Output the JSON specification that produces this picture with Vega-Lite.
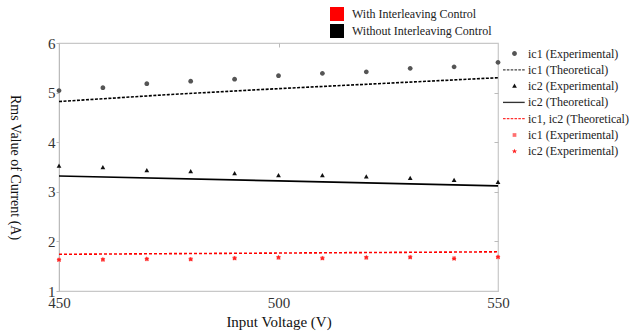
{
  "$schema": "https://vega.github.io/schema/vega-lite/v6.json",
  "width": 439,
  "height": 248,
  "autosize": {"type": "none"},
  "padding": {"left": 59, "top": 43, "right": 136, "bottom": 40},
  "background": "white",
  "config": {
    "view": {"stroke": "#c8c8c8", "strokeWidth": 1.2},
    "font": "Liberation Serif",
    "text": {"font": "Liberation Serif"},
    "axis": {"labelFont": "Liberation Serif", "titleFont": "Liberation Serif", "labelColor": "#333", "titleColor": "#111", "titleFontWeight": "normal", "domainColor": "#bbb", "tickColor": "#bbb", "grid": false, "labelFlush": false},
    "legend": {"labelFont": "Liberation Serif", "labelFontSize": 12, "labelColor": "#222"}
  },
  "resolve": {"axis": {"x": "independent", "y": "independent"}},
  "datasets": {
    "exp": [
      {"x": 450, "y": 5.04, "s": "A"}, {"x": 460, "y": 5.10, "s": "A"}, {"x": 470, "y": 5.18, "s": "A"}, {"x": 480, "y": 5.23, "s": "A"}, {"x": 490, "y": 5.27, "s": "A"}, {"x": 500, "y": 5.34, "s": "A"}, {"x": 510, "y": 5.39, "s": "A"}, {"x": 520, "y": 5.42, "s": "A"}, {"x": 530, "y": 5.49, "s": "A"}, {"x": 540, "y": 5.52, "s": "A"}, {"x": 550, "y": 5.61, "s": "A"},
      {"x": 450, "y": 3.52, "s": "C"}, {"x": 460, "y": 3.49, "s": "C"}, {"x": 470, "y": 3.43, "s": "C"}, {"x": 480, "y": 3.41, "s": "C"}, {"x": 490, "y": 3.37, "s": "C"}, {"x": 500, "y": 3.33, "s": "C"}, {"x": 510, "y": 3.33, "s": "C"}, {"x": 520, "y": 3.30, "s": "C"}, {"x": 530, "y": 3.27, "s": "C"}, {"x": 540, "y": 3.23, "s": "C"}, {"x": 550, "y": 3.19, "s": "C"},
      {"x": 450, "y": 1.63, "s": "F"}, {"x": 460, "y": 1.63, "s": "F"}, {"x": 470, "y": 1.64, "s": "F"}, {"x": 480, "y": 1.64, "s": "F"}, {"x": 490, "y": 1.66, "s": "F"}, {"x": 500, "y": 1.67, "s": "F"}, {"x": 510, "y": 1.66, "s": "F"}, {"x": 520, "y": 1.67, "s": "F"}, {"x": 530, "y": 1.68, "s": "F"}, {"x": 540, "y": 1.66, "s": "F"}, {"x": 550, "y": 1.68, "s": "F"},
      {"x": 450, "y": 1.63, "s": "G"}, {"x": 460, "y": 1.64, "s": "G"}, {"x": 470, "y": 1.65, "s": "G"}, {"x": 480, "y": 1.64, "s": "G"}, {"x": 490, "y": 1.66, "s": "G"}, {"x": 500, "y": 1.68, "s": "G"}, {"x": 510, "y": 1.66, "s": "G"}, {"x": 520, "y": 1.68, "s": "G"}, {"x": 530, "y": 1.68, "s": "G"}, {"x": 540, "y": 1.65, "s": "G"}, {"x": 550, "y": 1.69, "s": "G"}
    ],
    "theo": [
      {"x": 450, "y": 4.82, "s": "B", "ctrl": "Without Interleaving Control"},
      {"x": 475, "y": 4.96, "s": "B", "ctrl": "Without Interleaving Control"},
      {"x": 500, "y": 5.08, "s": "B", "ctrl": "Without Interleaving Control"},
      {"x": 525, "y": 5.19, "s": "B", "ctrl": "Without Interleaving Control"},
      {"x": 550, "y": 5.30, "s": "B", "ctrl": "Without Interleaving Control"},
      {"x": 450, "y": 3.32, "s": "D", "ctrl": "Without Interleaving Control"},
      {"x": 500, "y": 3.22, "s": "D", "ctrl": "Without Interleaving Control"},
      {"x": 550, "y": 3.12, "s": "D", "ctrl": "Without Interleaving Control"},
      {"x": 450, "y": 1.74, "s": "E", "ctrl": "With Interleaving Control"},
      {"x": 500, "y": 1.765, "s": "E", "ctrl": "With Interleaving Control"},
      {"x": 550, "y": 1.79, "s": "E", "ctrl": "With Interleaving Control"}
    ]
  },
  "layer": [
    {
      "data": {"name": "theo"},
      "transform": [{"filter": "datum.s === 'B'"}],
      "mark": {"type": "line", "strokeDash": [3, 1.5], "strokeWidth": 1.6},
      "encoding": {
        "x": {"field": "x", "type": "quantitative", "scale": {"domain": [450, 550], "nice": false}, "axis": {"orient": "bottom", "values": [450, 500, 550], "title": "Input Voltage (V)", "titleFont": "Liberation Serif", "labelFont": "Liberation Serif", "titleFontSize": 15, "labelFontSize": 15, "ticks": false, "labelPadding": 4, "titlePadding": 4, "domain": false, "labelFlush": false}},
        "y": {"field": "y", "type": "quantitative", "scale": {"domain": [1, 6], "nice": false}, "axis": {"orient": "left", "values": [1, 2, 3, 4, 5, 6], "title": "Rms Value of Current (A)", "titleFont": "Liberation Serif", "labelFont": "Liberation Serif", "titleFontSize": 14, "labelFontSize": 15, "tickSize": 3, "labelPadding": 1, "titleAngle": 90, "titleX": -45, "titleY": 124, "titleAlign": "center", "titleBaseline": "middle", "labelFlush": false}},
        "stroke": {"field": "ctrl", "type": "nominal", "scale": {"domain": ["With Interleaving Control", "Without Interleaving Control"], "range": ["#ff0000", "#000000"]},
          "legend": {"title": null, "orient": "none", "legendX": 271, "legendY": -36, "symbolType": "square", "symbolSize": 196, "rowPadding": 3, "labelOffset": 8, "padding": 0, "labelFont": "Liberation Serif", "labelFontSize": 12,
            "encode": {"symbols": {"update": {"fill": {"scale": "stroke", "field": "value"}, "strokeWidth": {"value": 0}, "strokeDash": {"value": []}}}}}}
      }
    },
    {
      "data": {"name": "theo"},
      "transform": [{"filter": "datum.s === 'D'"}],
      "mark": {"type": "line", "strokeWidth": 1.6},
      "encoding": {
        "x": {"field": "x", "type": "quantitative", "axis": null},
        "y": {"field": "y", "type": "quantitative", "axis": null},
        "stroke": {"field": "ctrl", "type": "nominal"}
      }
    },
    {
      "data": {"name": "theo"},
      "transform": [{"filter": "datum.s === 'E'"}],
      "mark": {"type": "line", "strokeDash": [3, 2], "strokeWidth": 1.6},
      "encoding": {
        "x": {"field": "x", "type": "quantitative", "axis": null},
        "y": {"field": "y", "type": "quantitative", "axis": null},
        "stroke": {"field": "ctrl", "type": "nominal"}
      }
    },
    {
      "data": {"name": "exp"},
      "mark": {"type": "point", "filled": true, "opacity": 1, "size": 289},
      "encoding": {
        "x": {"field": "x", "type": "quantitative", "axis": {"orient": "top", "values": [500], "labels": false, "domain": false, "title": null, "tickSize": -4, "tickColor": "#bbb"}},
        "y": {"field": "y", "type": "quantitative", "axis": {"orient": "right", "values": [2, 3, 4, 5], "labels": false, "domain": false, "title": null, "tickSize": -4, "tickColor": "#bbb"}},
        "shape": {"field": "s", "type": "nominal",
          "scale": {"domain": ["A", "B", "C", "D", "E", "F", "G"],
            "range": [
              "M0.28,0A0.28,0.28,0,1,1,-0.28,0A0.28,0.28,0,1,1,0.28,0Z",
              "M-1.35,-0.07H-1.05V0.07H-1.35ZM-0.9,-0.07H-0.6V0.07H-0.9ZM-0.45,-0.07H-0.15V0.07H-0.45ZM0,-0.07H0.3V0.07H0ZM0.45,-0.07H0.75V0.07H0.45ZM0.9,-0.07H1.2V0.07H0.9Z",
              "M0,-0.3L0.28,0.2L-0.28,0.2Z",
              "M-1.35,-0.08H1.2V0.08H-1.35Z",
              "M-1.35,-0.07H-1.05V0.07H-1.35ZM-0.9,-0.07H-0.6V0.07H-0.9ZM-0.45,-0.07H-0.15V0.07H-0.45ZM0,-0.07H0.3V0.07H0ZM0.45,-0.07H0.75V0.07H0.45ZM0.9,-0.07H1.2V0.07H0.9Z",
              "M-0.22,-0.22H0.22V0.22H-0.22Z",
              "M0,-0.3L0.09,-0.1L0.3,-0.1L0.13,0.04L0.2,0.26L0,0.12L-0.2,0.26L-0.13,0.04L-0.3,-0.1L-0.09,-0.1Z"
            ]},
          "legend": {"title": null, "orient": "none", "legendX": 446, "legendY": 1, "symbolSize": 289, "rowPadding": 0.3, "labelOffset": 4, "padding": 0, "labelFont": "Liberation Serif", "labelFontSize": 12,
            "labelExpr": "{'A':'ic1 (Experimental)','B':'ic1 (Theoretical)','C':'ic2 (Experimental)','D':'ic2 (Theoretical)','E':'ic1, ic2 (Theoretical)','F':'ic1 (Experimental)','G':'ic2 (Experimental)'}[datum.value]"}
        },
        "color": {"field": "s", "type": "nominal",
          "scale": {"domain": ["A", "B", "C", "D", "E", "F", "G"], "range": ["#555555", "#444444", "#111111", "#333333", "#ff3030", "#ff7070", "#ff2020"]}}
      }
    }
  ]
}
